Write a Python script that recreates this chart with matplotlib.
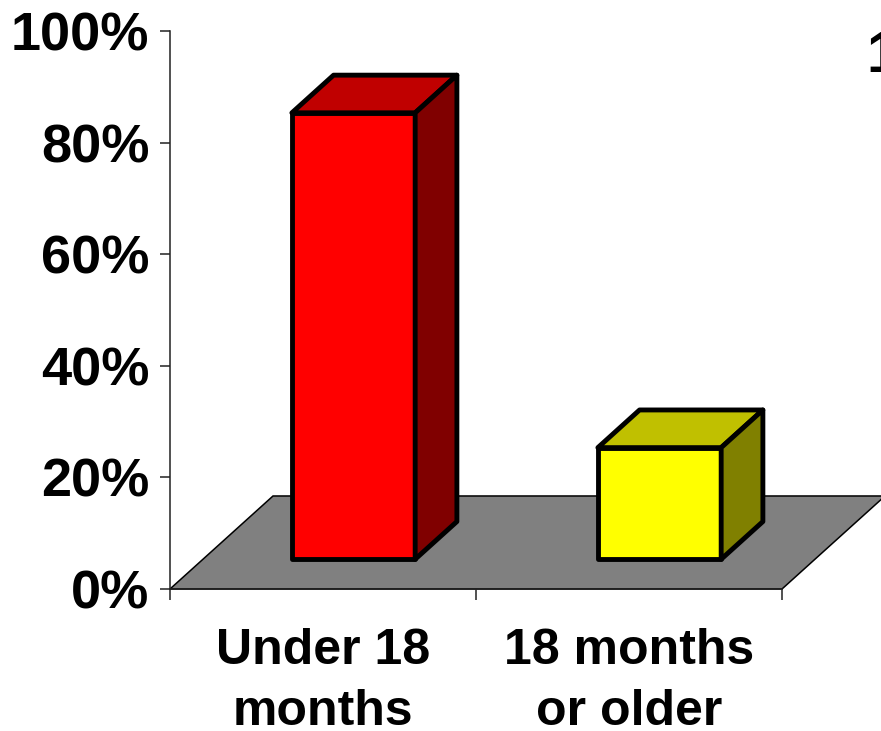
import matplotlib
matplotlib.use('Agg')
import matplotlib.pyplot as plt
from matplotlib.patches import Polygon

# data
categories = ['Under 18\nmonths', '18 months\nor older']
values = [80, 20]
y_ticks = [0, 20, 40, 60, 80, 100]
y_tick_labels = ['0%', '20%', '40%', '60%', '80%', '100%']

# colours of the three visible bar faces
front_colors = ['#ff0000', '#ffff00']
top_colors = ['#c00000', '#c0c000']
side_colors = ['#800000', '#808000']

W, H = 881, 731
FONT = 'Liberation Sans'
FONT_SIZE = 39

# oblique projection: a depth of 1 moves a point this far in data units
DEPTH_X = 0.3366
DEPTH_Y = 16.67
BAR_WIDTH = 0.403
BAR_NEAR = 0.32
BAR_FAR = 0.725


def project(x, y, d):
    return (x + d * DEPTH_X, y + d * DEPTH_Y)


fig = plt.figure(figsize=(W / 100, H / 100), dpi=100)
ax = fig.add_axes([170 / W, 1 - 589 / H, 612 / W, 558 / H])
ax.set_xlim(0, len(categories))
ax.set_ylim(0, 100)

# floor
floor = Polygon([project(0, 0, 0), project(2, 0, 0), project(2, 0, 1), project(0, 0, 1)],
                closed=True, facecolor='#808080', edgecolor='black', linewidth=1.1,
                clip_on=False, zorder=1)
ax.add_patch(floor)

# bars
for i, v in enumerate(values):
    x0 = i + 0.5 - BAR_WIDTH / 2 - 0.008
    x1 = x0 + BAR_WIDTH
    faces = [
        ([project(x0, 0, BAR_NEAR), project(x1, 0, BAR_NEAR),
          project(x1, v, BAR_NEAR), project(x0, v, BAR_NEAR)], front_colors[i]),
        ([project(x0, v, BAR_NEAR), project(x1, v, BAR_NEAR),
          project(x1, v, BAR_FAR), project(x0, v, BAR_FAR)], top_colors[i]),
        ([project(x1, 0, BAR_NEAR), project(x1, 0, BAR_FAR),
          project(x1, v, BAR_FAR), project(x1, v, BAR_NEAR)], side_colors[i]),
    ]
    for pts, color in faces:
        ax.add_patch(Polygon(pts, closed=True, facecolor=color, edgecolor='black',
                             linewidth=3.5, joinstyle='round', clip_on=False, zorder=3))

# axes
for side in ['top', 'right']:
    ax.spines[side].set_visible(False)
for side in ['left', 'bottom']:
    ax.spines[side].set_linewidth(1.1)
    ax.spines[side].set_color('#222222')
    ax.spines[side].set_zorder(2)

ax.set_yticks(y_ticks)
ax.set_yticklabels(y_tick_labels, fontfamily=FONT, fontweight='bold', fontsize=FONT_SIZE)
ax.tick_params(axis='y', length=7, width=1.1, pad=8, color='#222222')

ax.set_xticks(range(len(categories) + 1))
ax.set_xticklabels([])
ax.tick_params(axis='x', length=8, width=1.1, color='#222222')
for i, name in enumerate(categories):
    ax.annotate(name, xy=(i + 0.5, 0), xytext=(0, -28), textcoords='offset points',
                ha='center', va='top', fontfamily=FONT, fontweight='bold',
                fontsize=36, linespacing=1.41, annotation_clip=False)

# partial text cut by the right edge
fig.text(866 / W, 1 - 72 / H, '1', fontfamily=FONT, fontweight='bold', fontsize=41,
         ha='left', va='baseline')

fig.savefig('out.png', dpi=100)
